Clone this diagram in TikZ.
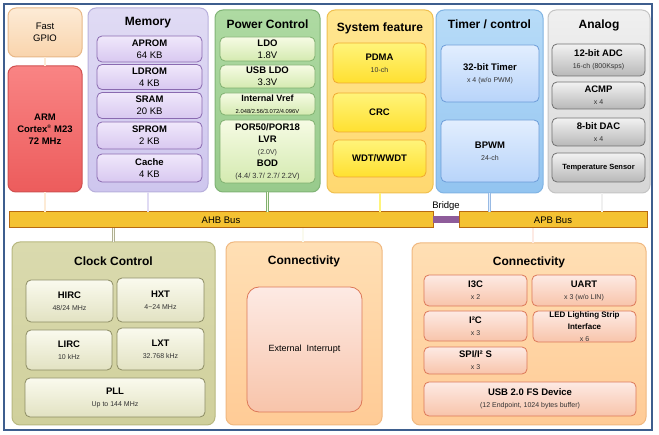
\documentclass[tikz,border=0pt]{standalone}
\usepackage{fontspec}
\setmainfont{Liberation Sans}
\newcommand\bxname{\fontsize{9.5}{11}\selectfont\bfseries}
\newcommand\bxreg{\fontsize{9.5}{11}\selectfont}
\newcommand\bxsub{\fontsize{7}{9}\selectfont\color{black!80}}
\begin{document}
\begin{tikzpicture}[x=1pt,y=-1pt,
  outer/.style={rounded corners=8pt, line width=1pt, inner sep=0pt, outer sep=0pt},
  ibox/.style={rounded corners=5pt, line width=0.8pt, inner sep=0pt, outer sep=0pt, align=center},
  title/.style={font=\fontsize{12}{14}\selectfont\bfseries, inner sep=0pt},
  wire/.style={double distance=1.6pt, line width=0.5pt},
  bus/.style={draw=busb, fill=busf, line width=1pt, inner sep=0pt, outer sep=0pt, minimum height=16pt, font=\fontsize{9.5}{11}\selectfont},
  memo/.style={outer, draw=memb, top color=memt, bottom color=memd},
  memi/.style={ibox, draw=memib, top color=memit, bottom color=memid},
  powo/.style={outer, draw=powb, top color=powt, bottom color=powd},
  powi/.style={ibox, draw=powib, top color=powit, bottom color=powid},
  syso/.style={outer, draw=sysb, top color=syst, bottom color=sysd},
  sysi/.style={ibox, draw=sysib, top color=sysit, bottom color=sysid},
  timo/.style={outer, draw=timb, top color=timt, bottom color=timd},
  timi/.style={ibox, draw=timib, top color=timit, bottom color=timid},
  anao/.style={outer, draw=anab, top color=anat, bottom color=anad},
  anai/.style={ibox, draw=anaib, top color=anait, bottom color=anaid},
  clko/.style={outer, draw=clkb, top color=clkt, bottom color=clkd},
  clki/.style={ibox, draw=clkib, top color=clkit, bottom color=clkid},
  cono/.style={outer, draw=conb, top color=cont, bottom color=cond},
  coni/.style={ibox, draw=conib, top color=conit, bottom color=conid},
]
\definecolor{frame}{HTML}{3E5E8E}
\definecolor{busf}{HTML}{F4C232}\definecolor{busb}{HTML}{B86A10}
\definecolor{bridge}{HTML}{8E5C9A}
\definecolor{gpiot}{HTML}{FDEBD6}\definecolor{gpiod}{HTML}{F9D4AC}\definecolor{gpiob}{HTML}{E8B888}
\definecolor{armt}{HTML}{F98484}\definecolor{armd}{HTML}{EC5C5C}\definecolor{armb}{HTML}{D05050}
\definecolor{memt}{HTML}{E0DBF4}\definecolor{memd}{HTML}{CEC6EE}\definecolor{memb}{HTML}{B8B0DC}
\definecolor{memit}{HTML}{F0E8FB}\definecolor{memid}{HTML}{D8C8F0}\definecolor{memib}{HTML}{8A6AB0}
\definecolor{powt}{HTML}{AEDAA2}\definecolor{powd}{HTML}{98CA8C}\definecolor{powb}{HTML}{80B476}
\definecolor{powit}{HTML}{F6FBE4}\definecolor{powid}{HTML}{D4EAB0}\definecolor{powib}{HTML}{80B070}
\definecolor{syst}{HTML}{FFE690}\definecolor{sysd}{HTML}{FFD870}\definecolor{sysb}{HTML}{F0C050}
\definecolor{sysit}{HTML}{FFF47A}\definecolor{sysid}{HTML}{FFE030}\definecolor{sysib}{HTML}{F0A830}
\definecolor{timt}{HTML}{B8DCF8}\definecolor{timd}{HTML}{92C4F0}\definecolor{timb}{HTML}{80B4E4}
\definecolor{timit}{HTML}{E2EEFE}\definecolor{timid}{HTML}{B8D4FA}\definecolor{timib}{HTML}{6C9CD8}
\definecolor{anat}{HTML}{F0F0F0}\definecolor{anad}{HTML}{D6D6D6}\definecolor{anab}{HTML}{C4C4C4}
\definecolor{anait}{HTML}{F2F2F2}\definecolor{anaid}{HTML}{B8B8B8}\definecolor{anaib}{HTML}{707070}
\definecolor{clkt}{HTML}{DADAAE}\definecolor{clkd}{HTML}{D0D09C}\definecolor{clkb}{HTML}{B8B880}
\definecolor{clkit}{HTML}{FAFAEE}\definecolor{clkid}{HTML}{E2E2C2}\definecolor{clkib}{HTML}{8C8C64}
\definecolor{cont}{HTML}{FFDFB4}\definecolor{cond}{HTML}{FFCB96}\definecolor{conb}{HTML}{F0B880}
\definecolor{conit}{HTML}{FDEAE4}\definecolor{conid}{HTML}{F8C4AA}\definecolor{conib}{HTML}{DC7858}

\useasboundingbox (0,0) rectangle (659,435);
\fill[white] (0,0) rectangle (659,435);
\draw[frame, line width=2pt] (4,4) rectangle (652,430);

% ---------- top row ----------
\node[outer, draw=gpiob, top color=gpiot, bottom color=gpiod, minimum width=74pt, minimum height=49pt, align=center,
  font=\fontsize{9.5}{12}\selectfont] (gpio) at (45,32.5) {Fast\\GPIO};
\node[outer, draw=armb, top color=armt, bottom color=armd, minimum width=74pt, minimum height=126pt, align=center,
  font=\fontsize{9.5}{12}\selectfont\bfseries] (arm) at (45,129) {ARM\\Cortex\textsuperscript{\fontsize{5}{5}\selectfont ®} M23\\72 MHz};

\node[memo, minimum width=120pt, minimum height=184pt] (mem) at (148,100) {};
\node[title] (memT) at (148,23) {Memory};
\node[memi, minimum width=105pt, minimum height=26pt] (aprom) at (149.5,49) {\bxname APROM\\\bxreg 64 KB};
\node[memi, minimum width=105pt, minimum height=25pt] (ldrom) at (149.5,77) {\bxname LDROM\\\bxreg 4 KB};
\node[memi, minimum width=105pt, minimum height=26pt] (sram) at (149.5,105.5) {\bxname SRAM\\\bxreg 20 KB};
\node[memi, minimum width=105pt, minimum height=27pt] (sprom) at (149.5,135.5) {\bxname SPROM\\\bxreg 2 KB};
\node[memi, minimum width=105pt, minimum height=28pt] (cache) at (149.5,168) {\bxname Cache\\\bxreg 4 KB};

\node[powo, minimum width=105pt, minimum height=182pt] (pow) at (267.5,101) {};
\node[title] (powT) at (267.5,24) {Power Control};
\node[powi, minimum width=95pt, minimum height=24pt] (ldo) at (267.5,49) {\bxname LDO\\\bxreg 1.8V};
\node[powi, minimum width=95pt, minimum height=23pt] (usbldo) at (267.5,76.5) {\bxname USB LDO\\\bxreg 3.3V};
\node[powi, minimum width=95pt, minimum height=22pt] (vref) at (267.5,104) {\fontsize{9}{10}\selectfont\bfseries Internal Vref\\\fontsize{5.8}{7}\selectfont 2.048/2.56/3.072/4.096V};
\node[powi, minimum width=95pt, minimum height=63pt] (por) at (267.5,151.5) {\bxname POR50/POR18\\\bxname LVR\\\bxsub (2.0V)\\\bxname BOD\\\fontsize{7.5}{9}\selectfont\color{black!80}(4.4/ 3.7/ 2.7/ 2.2V)};

\node[syso, minimum width=106pt, minimum height=183pt] (sys) at (380,101.5) {};
\node[title] (sysT) at (380,28) {System feature};
\node[sysi, minimum width=93pt, minimum height=40pt] (pdma) at (379.5,63) {\bxname PDMA\\\bxsub 10-ch};
\node[sysi, minimum width=93pt, minimum height=39pt] (crc) at (379.5,112.5) {\bxname CRC};
\node[sysi, minimum width=93pt, minimum height=37pt] (wdt) at (379.5,158.5) {\bxname WDT/WWDT};

\node[timo, minimum width=107pt, minimum height=183pt] (tim) at (489.5,101.5) {};
\node[title] (timT) at (489.5,24) {Timer / control};
\node[timi, minimum width=98pt, minimum height=57pt] (timer32) at (490,73.5) {\bxname 32-bit Timer\\\bxsub x 4 (w/o PWM)};
\node[timi, minimum width=98pt, minimum height=62pt] (bpwm) at (490,151) {\bxname BPWM\\\bxsub 24-ch};

\node[anao, minimum width=102pt, minimum height=183pt] (ana) at (599,101.5) {};
\node[title] (anaT) at (599,25) {Analog};
\node[anai, minimum width=93pt, minimum height=32pt] (adc) at (598.5,60) {\bxname 12-bit ADC\\\bxsub 16-ch (800Ksps)};
\node[anai, minimum width=93pt, minimum height=27pt] (acmp) at (598.5,95.5) {\bxname ACMP\\\bxsub x 4};
\node[anai, minimum width=93pt, minimum height=28pt] (dac) at (598.5,132) {\bxname 8-bit DAC\\\bxsub x 4};
\node[anai, minimum width=93pt, minimum height=29pt] (temp) at (598.5,167.5) {\fontsize{7.5}{9}\selectfont\bfseries Temperature Sensor};

% ---------- buses ----------
\node[bus, minimum width=424pt] (ahb) at (221,220) {AHB Bus};
\node[bus, minimum width=188pt] (apb) at (553,220) {APB Bus};
\draw[bridge, line width=7pt] (ahb.east) -- (apb.west);
\node[inner sep=0pt, font=\fontsize{9.5}{11}\selectfont] (bridgeT) at (446,206) {Bridge};

% ---------- bottom row ----------
\node[clko, minimum width=203pt, minimum height=183pt] (clk) at (113.5,333.5) {};
\node[title] (clkT) at (113.5,261) {Clock Control};
\node[clki, minimum width=87pt, minimum height=42pt] (hirc) at (69.5,301) {\bxname HIRC\\\bxsub 48/24 MHz};
\node[clki, minimum width=87pt, minimum height=44pt] (hxt) at (160.5,300) {\bxname HXT\\\bxsub 4\textasciitilde 24 MHz};
\node[clki, minimum width=86pt, minimum height=40pt] (lirc) at (69,350) {\bxname LIRC\\\bxsub 10 kHz};
\node[clki, minimum width=87pt, minimum height=42pt] (lxt) at (160.5,349) {\bxname LXT\\\bxsub 32.768 kHz};
\node[clki, minimum width=180pt, minimum height=39pt] (pll) at (115,397.5) {\bxname PLL\\\bxsub Up to 144 MHz};

\node[cono, minimum width=156pt, minimum height=183pt] (conm) at (304,333.5) {};
\node[title] (conmT) at (304,261) {Connectivity};
\node[coni, minimum width=115pt, minimum height=125pt, rounded corners=12pt, font=\fontsize{9}{11}\selectfont] (eint) at (304.5,349.5) {External\ \ Interrupt};

\node[cono, minimum width=234pt, minimum height=182pt] (conr) at (529,334) {};
\node[title] (conrT) at (529,262) {Connectivity};
\node[coni, minimum width=103pt, minimum height=31pt] (i3c) at (475.5,290.5) {\bxname I3C\\\bxsub x 2};
\node[coni, minimum width=104pt, minimum height=31pt] (uart) at (584,290.5) {\bxname UART\\\bxsub x 3 (w/o LIN)};
\node[coni, minimum width=103pt, minimum height=30pt] (i2c) at (475.5,326) {\bxname I²C\\\bxsub x 3};
\node[coni, minimum width=103pt, minimum height=31pt] (led) at (584.5,326.5) {\fontsize{8}{9}\selectfont\bfseries LED Lighting Strip\\\fontsize{8}{9}\selectfont\bfseries Interface\\\bxsub x 6};
\node[coni, minimum width=103pt, minimum height=27pt] (spi) at (475.5,360.5) {\bxname SPI/I² S\\\bxsub x 3};
\node[coni, minimum width=212pt, minimum height=34pt] (usb) at (530,399) {\bxname USB 2.0 FS Device\\\bxsub (12 Endpoint, 1024 bytes buffer)};

% ---------- connectors ----------
\draw[wire, draw=armb!60, double=gpiot] (gpio.south) -- (arm.north);
\draw[wire, draw=armb!60, double=gpiot] (arm.south) -- (arm.south |- ahb.north);
\draw[wire, draw=memib!60, double=memt] (mem.south) -- (mem.south |- ahb.north);
\draw[wire, draw=powib, double=powit] (pow.south) -- (pow.south |- ahb.north);
\draw[wire, draw=sysib!70, double=sysit] (sys.south) -- (sys.south |- ahb.north);
\draw[wire, draw=timib!70, double=timit] (tim.south) -- (tim.south |- apb.north);
\draw[wire, draw=anaib!70, double=anat] ([xshift=3pt]ana.south) -- ([xshift=3pt]ana.south |- apb.north);
\draw[wire, draw=clkib!70, double=clkit] (clk.north) -- (clk.north |- ahb.south);
\draw[wire, draw=clkib!70, double=clkit] ([xshift=-1pt]conm.north) -- ([xshift=-1pt]conm.north |- ahb.south);
\draw[wire, draw=conb, double=conit] ([xshift=4pt]conr.north) -- ([xshift=4pt]conr.north |- apb.south);
\end{tikzpicture}
\end{document}
